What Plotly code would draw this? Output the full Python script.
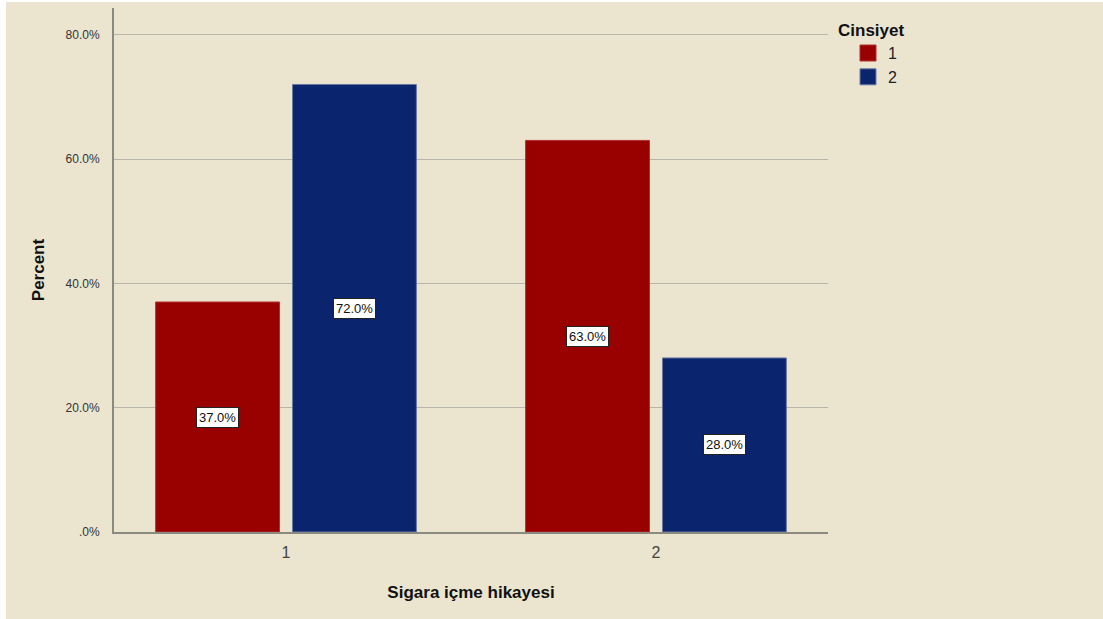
import plotly.graph_objects as go

# Smoking history categories and percent per gender group
categories = [1, 2]
tick_labels = ["1", "2"]
gender_names = ["1", "2"]
pct_gender_1 = [37.0, 63.0]
pct_gender_2 = [72.0, 28.0]
y_ticks = [0, 20, 40, 60, 80]
y_tick_labels = [".0%", "20.0%", "40.0%", "60.0%", "80.0%"]

BG = "#EBE5D0"
RED = "#990000"
BLUE = "#0A256E"
FONT = "Arial, Liberation Sans, sans-serif"

BARGAP = 0.26
BARGROUPGAP = 0.095
slot = (1 - BARGAP) / 2  # width of each trace slot in category units
offset = slot / 2

fig = go.Figure()
series = [(gender_names[0], pct_gender_1, RED, "#B03030"),
          (gender_names[1], pct_gender_2, BLUE, "#6A7AA0")]
for name, vals, col, edge in series:
    fig.add_trace(go.Bar(
        x=categories, y=vals, name=name, showlegend=False,
        marker=dict(color=col, line=dict(color=edge, width=1)),
        hoverinfo="skip",
    ))
# square swatches for the legend
for name, vals, col, edge in series:
    fig.add_trace(go.Scatter(
        x=[None], y=[None], mode="markers", name=name,
        marker=dict(symbol="square", size=16, color=col, line=dict(color=edge, width=1)),
    ))

# Value boxes at bar mid-height
for i, (name, vals, col, edge) in enumerate(series):
    dx = -offset if i == 0 else offset
    for c, v in zip(categories, vals):
        fig.add_annotation(
            x=c + dx, y=v / 2, xref="x", yref="y",
            text=f"{v:.1f}%", showarrow=False,
            font=dict(family=FONT, size=13, color="#111111"),
            bgcolor="white", bordercolor="#222222", borderwidth=1, borderpad=2,
        )

L, R, T, B = 114, 828, 8, 532
W, H = 1103, 619
pw, ph = R - L, B - T

def px_x(p):
    return (p - L) / pw

def px_y(p):
    return (B - p) / ph

# thin white page margin along the left and top edges
fig.add_shape(type="rect", xref="paper", yref="paper",
              x0=px_x(0), x1=px_x(6), y0=px_y(H), y1=px_y(0),
              fillcolor="white", line_width=0, layer="below")
fig.add_shape(type="rect", xref="paper", yref="paper",
              x0=px_x(0), x1=px_x(W), y0=px_y(2), y1=px_y(0),
              fillcolor="white", line_width=0, layer="below")

fig.update_layout(
    width=W, height=H,
    margin=dict(l=L, r=W - R, t=T, b=H - B, pad=0),
    paper_bgcolor=BG, plot_bgcolor=BG,
    barmode="group", bargap=BARGAP, bargroupgap=BARGROUPGAP,
    font=dict(family=FONT, color="#222222"),
    showlegend=True,
    legend=dict(
        title=dict(text="<b>Cinsiyet</b>", font=dict(size=17, color="#111111"), side="top"),
        x=px_x(836), y=px_y(14), xanchor="left", yanchor="top",
        bgcolor="rgba(0,0,0,0)", font=dict(size=16, color="#222222"),
        itemwidth=30, tracegroupgap=0, indentation=12,
    ),
    xaxis=dict(
        range=[0.535, 2.465], tickvals=categories, ticktext=tick_labels,
        tickfont=dict(size=16, color="#444444"), ticks="", showgrid=False,
        ticklabelstandoff=5,
        showline=True, linecolor="#8A8A80", linewidth=1.5, zeroline=False,
        title=dict(text="<b>Sigara içme hikayesi</b>", font=dict(size=17, color="#111111"), standoff=26),
    ),
    yaxis=dict(
        range=[0, 84.3], tickvals=y_ticks, ticktext=y_tick_labels,
        tickfont=dict(size=12, color="#333333"), ticks="", ticklabelstandoff=10,
        showgrid=True, gridcolor="#B8B6A8", gridwidth=1,
        showline=True, linecolor="#8A8A80", linewidth=2, zeroline=False,
        title=dict(text="<b>Percent</b>", font=dict(size=17, color="#111111"), standoff=17),
    ),
)

fig.write_html("out.html")
